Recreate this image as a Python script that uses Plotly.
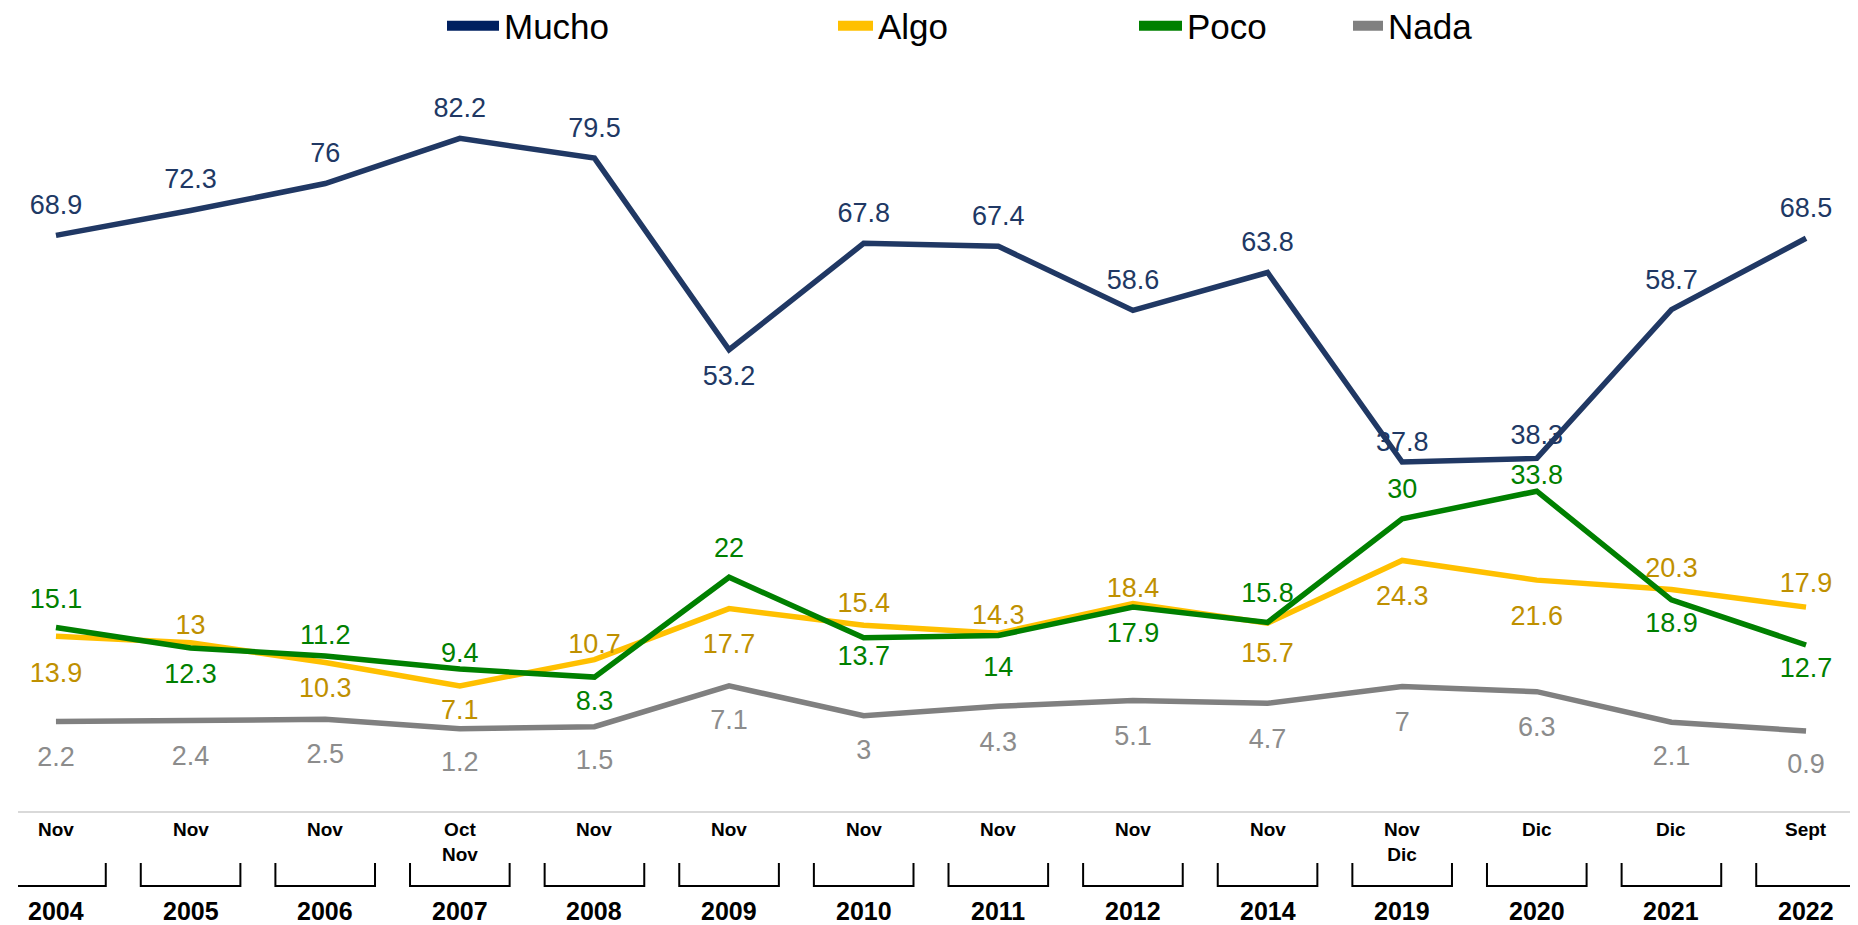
import plotly.graph_objects as go

years = ["2004", "2005", "2006", "2007", "2008", "2009", "2010",
         "2011", "2012", "2014", "2019", "2020", "2021", "2022"]
months = ["Nov", "Nov", "Nov", "Oct<br>Nov", "Nov", "Nov", "Nov",
          "Nov", "Nov", "Nov", "Nov<br>Dic", "Dic", "Dic", "Sept"]

mucho = [68.9, 72.3, 76, 82.2, 79.5, 53.2, 67.8, 67.4, 58.6, 63.8, 37.8, 38.3, 58.7, 68.5]
algo = [13.9, 13, 10.3, 7.1, 10.7, 17.7, 15.4, 14.3, 18.4, 15.7, 24.3, 21.6, 20.3, 17.9]
poco = [15.1, 12.3, 11.2, 9.4, 8.3, 22, 13.7, 14, 17.9, 15.8, 30, 33.8, 18.9, 12.7]
nada = [2.2, 2.4, 2.5, 1.2, 1.5, 7.1, 3, 4.3, 5.1, 4.7, 7, 6.3, 2.1, 0.9]

# label placement (t = above, b = below) and distance from the point in px
mucho_pos = "tttttbtttttttt"
algo_pos = "btbbtbtttbbbtt"
poco_pos = "tbttbtbbbtttbb"
nada_pos = "bbbbbbbbbbbbbb"
mucho_gap = [31, 32, 31, 31, 31, 25.5, 31, 31, 31, 31, 21, 24, 30, 31]
algo_gap = [36, 18, 25, 24, 13, 35, 23, 19.5, 17, 29, 34.5, 35, 22, 25]
poco_gap = [29.5, 25, 22, 17, 23, 30, 18, 31, 25, 30.5, 30.5, 12, 23, 22]
nada_gap = [35, 35, 34, 33, 33, 34, 34, 35, 35, 35, 35, 35, 33, 32]

FONT = "Liberation Sans, Arial, sans-serif"
LABEL_SIZE = 27
xs = list(range(len(years)))


def offset_sizes(pos, gap):
    # invisible marker size that pushes a plotly text label to the wanted distance
    out = []
    for p, g in zip(pos, gap):
        r = g - (0.608 if p == "t" else 0.392) * LABEL_SIZE
        out.append(max(0.0, 1.6 * (r - 1)))
    return out


series = [
    # name, values, positions, gaps, line colour, label colour
    ("Nada", nada, nada_pos, nada_gap, "#808080", "#8C8C8C"),
    ("Algo", algo, algo_pos, algo_gap, "#FFC000", "#BF9000"),
    ("Poco", poco, poco_pos, poco_gap, "#008000", "#008000"),
    ("Mucho", mucho, mucho_pos, mucho_gap, "#203864", "#203864"),
]

fig = go.Figure()
for name, vals, pos, gap, lc, tc in series:
    fig.add_trace(go.Scatter(
        x=xs, y=vals, mode="lines+markers+text", name=name,
        line=dict(color=lc, width=5.5),
        marker=dict(size=offset_sizes(pos, gap), color="rgba(0,0,0,0)", line=dict(width=0)),
        text=[f"{v:g}" for v in vals],
        textposition=["top center" if p == "t" else "bottom center" for p in pos],
        textfont=dict(family=FONT, size=LABEL_SIZE, color=tc),
        showlegend=False, cliponaxis=False,
    ))

# legend entries, each in its own legend box: name, colour, left px, item width
legend_items = [("Mucho", "#002060", 447, 52), ("Algo", "#FFC000", 838, 35),
                ("Poco", "#008000", 1139, 43), ("Nada", "#808080", 1353, 30)]
layout_legends = {}
for i, (name, col, px, iw) in enumerate(legend_items):
    key = "legend" if i == 0 else f"legend{i + 1}"
    fig.add_trace(go.Scatter(x=[None], y=[None], mode="lines", name=name,
                             line=dict(color=col, width=11), legend=key))
    layout_legends[key] = dict(
        x=(px - 18 - 5) / 1840, xanchor="left", y=(811 - 26) / 741, yanchor="middle",
        orientation="h", bgcolor="rgba(0,0,0,0)", itemwidth=iw,
        font=dict(family=FONT, size=35, color="#000000"),
    )

# month / year labels and brackets under the axis
for i in xs:
    fig.add_annotation(x=i, y=-0.008, xref="x", yref="paper", text=f"<b>{months[i]}</b>",
                       showarrow=False, yanchor="top",
                       font=dict(family=FONT, size=19, color="#000000"))
    fig.add_annotation(x=i, y=-0.135, xref="x", yref="paper", text=f"<b>{years[i]}</b>",
                       showarrow=False, yanchor="middle",
                       font=dict(family=FONT, size=25, color="#000000"))
    x0, x1 = i - 0.37, i + 0.37
    y0, y1 = -0.0702, -0.1012
    fig.add_shape(type="path", xref="x", yref="paper",
                  path=f"M {x0},{y0} L {x0},{y1} L {x1},{y1} L {x1},{y0}",
                  line=dict(color="#000000", width=2))

# the page body has an 8px margin, so the figure is sized to end at the window edge
fig.update_layout(
    width=1850, height=917,
    margin=dict(l=10, r=0, t=62, b=114, autoexpand=False),
    plot_bgcolor="white", paper_bgcolor="white",
    xaxis=dict(range=[-0.282, 13.386], showgrid=False, zeroline=False,
               showticklabels=False, showline=True, linecolor="#D9D9D9", linewidth=2),
    yaxis=dict(range=[-10.07, 91.58], showgrid=False, zeroline=False,
               showticklabels=False, showline=False),
    **layout_legends,
)

fig.write_html("out.html")
